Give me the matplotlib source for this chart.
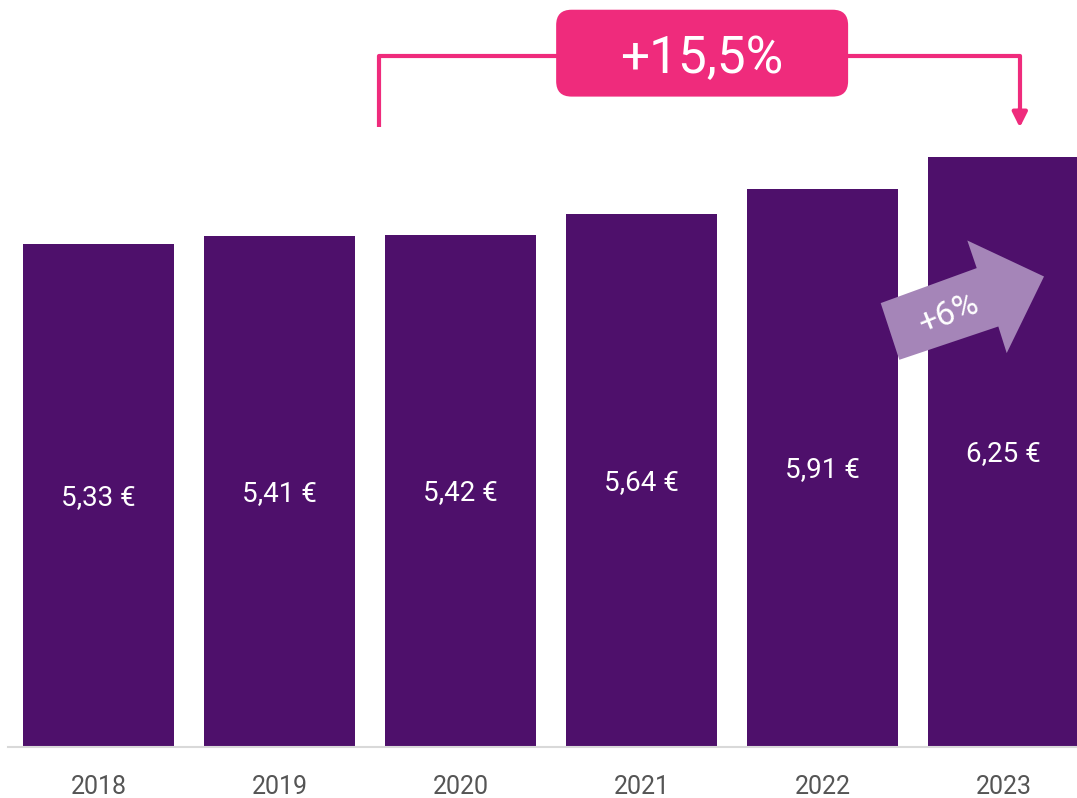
import matplotlib.pyplot as plt
from matplotlib.patches import FancyBboxPatch, Polygon
import numpy as np

# ============================================
# DATA
# ============================================
years = ['2018', '2019', '2020', '2021', '2022', '2023']
prices = [5.33, 5.41, 5.42, 5.64, 5.91, 6.25]
price_labels = ['5,33 €', '5,41 €', '5,42 €', '5,64 €', '5,91 €', '6,25 €']
total_change = '+15,5%'
last_change = '+6%'

BAR = '#4E106B'
PINK = '#EF2B7C'
LILAC = '#A585B8'

plt.rcParams['font.family'] = ['Roboto', 'DejaVu Sans']

fig = plt.figure(figsize=(10.77, 7.98), dpi=100)
ax = fig.add_axes([0, 0.064, 1, 0.936])

x = np.arange(len(years))
bars = ax.bar(x, prices, width=0.834, color=BAR)

# value labels in the middle of each bar
for xi, v, lab in zip(x, prices, price_labels):
    ax.text(xi, v / 2 - 0.02, lab, ha='center', va='center', color='white',
            fontsize=20)

ax.set_xlim(-0.544, 5.406)
ax.set_ylim(0, 7.91)
ax.set_xticks(x)
ax.set_xticklabels(years, fontsize=18, color='#555555')
ax.tick_params(axis='x', length=0, pad=20)
ax.set_yticks([])
for s in ['top', 'right', 'left']:
    ax.spines[s].set_visible(False)
ax.spines['bottom'].set_color('#d9d9d9')
ax.spines['bottom'].set_linewidth(1.5)
ax.spines['bottom'].set_bounds(-0.5, 5.406)

# --- bracket 2020 -> 2023 ---
top = max(prices)
y_line = top + 1.07
y_low = top + 0.31
x_left = x[2] - 0.45
x_right = x[5] + 0.09
ax.plot([x_left, x_left, x_right, x_right], [y_low, y_line, y_line, y_low + 0.15],
        color=PINK, lw=3, solid_capstyle='butt', clip_on=False)
ax.annotate('', xy=(x_right, y_low), xytext=(x_right, y_low + 0.2),
            arrowprops=dict(arrowstyle='-|>', color=PINK, lw=3,
                            mutation_scale=22, shrinkA=0, shrinkB=0),
            annotation_clip=False)

bx, by = 3.335, top + 1.097
bw, bh = 1.613, 0.92
box = FancyBboxPatch((bx - bw / 2, by - bh / 2), bw, bh,
                     boxstyle='round,pad=0,rounding_size=0.085',
                     mutation_aspect=1.92, fc=PINK, ec='none',
                     clip_on=False, zorder=3)
ax.add_patch(box)
ax.text(bx, by - 0.06, total_change, ha='center', va='center', color='white',
        fontsize=37, zorder=4)

# --- +6% fat arrow on 2023 ---
px = np.array([880.7, 899.3, 998.3, 1006.7, 1044.0, 967.3, 976.7])
py = np.array([303.3, 360.0, 326.7, 353.3, 276.7, 240.7, 268.3])
dx = (px - 98.5) / 181.0
dy = (747 - py) / 94.4
arrow = Polygon(np.column_stack([dx, dy]), closed=True, fc=LILAC, ec='none',
                zorder=3)
ax.add_patch(arrow)
ax.text(np.mean(dx[[0, 1, 2, 6]]) + 0.06, np.mean(dy[[0, 1, 2, 6]]), last_change,
        ha='center', va='center', color='white', fontsize=24, rotation=22,
        zorder=4)

plt.savefig('out.png', dpi=100)
